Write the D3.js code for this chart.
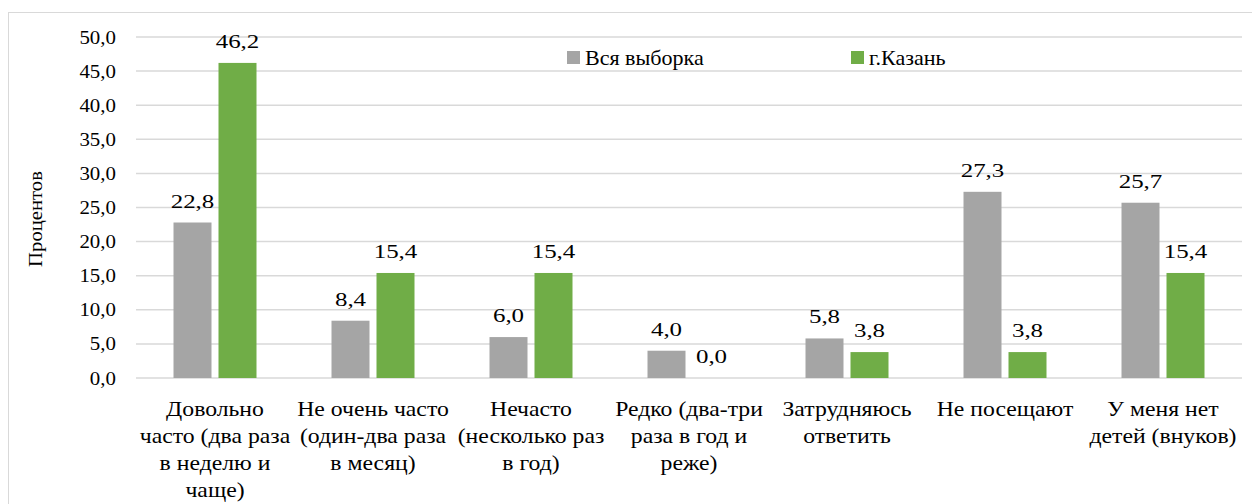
<!DOCTYPE html>
<html>
<head>
<meta charset="utf-8">
<script src="https://cdn.jsdelivr.net/npm/d3@7"></script>
</head>
<body style="margin:0;background:#fff">
<svg id="chart" width="1252" height="504" font-family="Liberation Serif, serif"></svg>
<script>
// categories, with manual line breaks as in the original
var categories = [
  "Довольно\nчасто (два раза\nв неделю и\nчаще)",
  "Не очень часто\n(один-два раза\nв месяц)",
  "Нечасто\n(несколько раз\nв год)",
  "Редко (два-три\nраза в год и\nреже)",
  "Затрудняюсь\nответить",
  "Не посещают",
  "У меня нет\nдетей (внуков)"
];
var seriesNames = ["Вся выборка", "г.Казань"];
var allSample = [22.8, 8.4, 6.0, 4.0, 5.8, 27.3, 25.7];
var kazan = [46.2, 15.4, 15.4, 0.0, 3.8, 3.8, 15.4];
var yTicks = [0, 5, 10, 15, 20, 25, 30, 35, 40, 45, 50];
var colors = ["#a5a5a5", "#70ad47"];

var svg = d3.select("#chart");
var fmt = function (v) { return v.toFixed(1).replace(".", ","); };
// the source image is a bit stretched sideways, so text gets a horizontal scale
function place(x, y, sx) { return "translate(" + x + "," + y + ") scale(" + sx + ",1)"; }

// outer frame (runs off the right and bottom edges)
svg.append("rect")
  .attr("x", 8.5).attr("y", 12.5)
  .attr("width", 1300).attr("height", 600)
  .attr("fill", "none").attr("stroke", "#d9d9d9").attr("stroke-width", 1);

var plotLeft = 136, plotRight = 1242, plotTop = 37, plotBottom = 378;

var x0 = d3.scaleBand().domain(d3.range(categories.length)).range([plotLeft, plotRight]);
var x1 = d3.scaleBand().domain([0, 1]).range([37.5, 120.5]).paddingInner(0.1556);
var y = d3.scaleLinear().domain([0, 50]).range([plotBottom, plotTop]);

// gridlines
svg.append("g").selectAll("line")
  .data(yTicks)
  .enter().append("line")
  .attr("x1", plotLeft).attr("x2", plotRight)
  .attr("y1", function (d) { return y(d); })
  .attr("y2", function (d) { return y(d); })
  .attr("stroke", "#d9d9d9").attr("stroke-width", 1.5);

// y tick labels
svg.append("g").selectAll("text")
  .data(yTicks)
  .enter().append("text")
  .attr("transform", function (d) { return place(116, y(d) + 6.5, 1.1); })
  .attr("text-anchor", "end")
  .style("font-family", "'Liberation Serif'").style("font-size", "19px")
  .text(fmt);

// axis title
svg.append("text")
  .attr("transform", "translate(42,219) rotate(-90) scale(1.15,1)")
  .attr("text-anchor", "middle")
  .style("font-family", "'Liberation Serif'").style("font-size", "18px")
  .text("Процентов");

// bars
var series = [allSample, kazan];
series.forEach(function (vals, s) {
  var g = svg.append("g");
  g.selectAll("rect")
    .data(vals)
    .enter().append("rect")
    .attr("x", function (d, i) { return x0(i) + x1(s); })
    .attr("y", function (d) { return y(d); })
    .attr("width", x1.bandwidth())
    .attr("height", function (d) { return plotBottom - y(d); })
    .attr("fill", colors[s]);
  g.selectAll("text")
    .data(vals)
    .enter().append("text")
    .attr("transform", function (d, i) {
      return place(x0(i) + x1(s) + x1.bandwidth() / 2, y(d) - 15, 1.28);
    })
    .attr("text-anchor", "middle")
    .style("font-family", "'Liberation Serif'").style("font-size", "19.5px")
    .text(fmt);
});

// category labels, one text per line
var cat = svg.append("g").selectAll("g")
  .data(categories)
  .enter().append("g")
  .attr("transform", function (d, i) { return "translate(" + (x0(i) + x0.bandwidth() / 2) + ",0)"; });
cat.selectAll("text")
  .data(function (d) { return d.split("\n"); })
  .enter().append("text")
  .attr("transform", function (d, j) { return place(0, 416 + j * 27, 1.13); })
  .attr("text-anchor", "middle")
  .style("font-family", "'Liberation Serif'").style("font-size", "21px")
  .text(function (d) { return d; });

// legend
var legendX = [567, 851];
var leg = svg.append("g").selectAll("g")
  .data(seriesNames)
  .enter().append("g")
  .attr("transform", function (d, i) { return "translate(" + legendX[i] + ",51)"; });
leg.append("rect").attr("width", 13).attr("height", 13)
  .attr("fill", function (d, i) { return colors[i]; });
leg.append("text").attr("transform", place(18, 14, 1.05))
  .style("font-family", "'Liberation Serif'").style("font-size", "21px")
  .text(function (d) { return d; });
</script>
</body>
</html>
